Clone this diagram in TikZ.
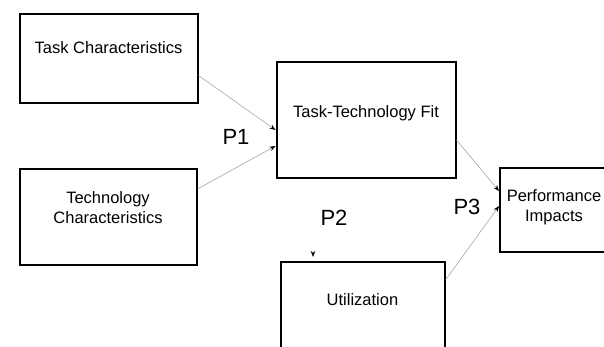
\documentclass[tikz,border=0pt]{standalone}
\usepackage{fontspec}
\setmainfont{Liberation Sans}
\usetikzlibrary{arrows.meta}
\begin{document}
\begin{tikzpicture}[x=1pt,y=-1pt]
  \tikzset{b/.style 2 args={draw,line width=2pt,minimum width=#1,minimum height=#2,inner sep=0pt},
    t/.style={font=\fontsize{16.5}{20}\selectfont,align=center},
    p/.style={font=\fontsize{22}{24}\selectfont},
    c/.style={draw=black!35,line width=0.6pt,-{Stealth[black,length=6pt,width=4.5pt]}}}
  \useasboundingbox (0,0) rectangle (604,347);
  \clip (0,0) rectangle (604,347);
  % boxes
  \node[b={178}{89},label={[t,yshift=10.5]center:Task Characteristics}] (tc) at (108.5,58.5) {};
  \node[b={177}{95},label={[t,yshift=9]center:Technology\\Characteristics}] (tech) at (108,217) {};
  \node[b={179}{116},label={[t,yshift=7]center:Task-Technology Fit}] (ttf) at (366,120) {};
  \node[b={108}{84},label={[t,yshift=3]center:Performance\\Impacts}] (pi) at (554,210) {};
  \node[b={164}{88},label={[t,yshift=6]center:Utilization}] (util) at (362.5,306) {};
  % labels
  \node[p] (p1) at (236,137) {P1};
  \node[p] (p2) at (334,218) {P2};
  \node[p] (p3) at (467,207) {P3};
  \coordinate (u) at (313,249);
  % connectors
  \draw[c] ([yshift=-17]tc.east)--([yshift=-10]ttf.west);
  \draw[c] ([yshift=28]tech.east)--([yshift=-26]ttf.west);
  \draw[c] ([yshift=-20]ttf.east)--([yshift=19]pi.west);
  \draw[c] ([yshift=26]util.east)--([yshift=4]pi.west);
  \draw[c,draw=white,shorten >=4pt] (u)--([xshift=-49.5]util.north);
\end{tikzpicture}
\end{document}
